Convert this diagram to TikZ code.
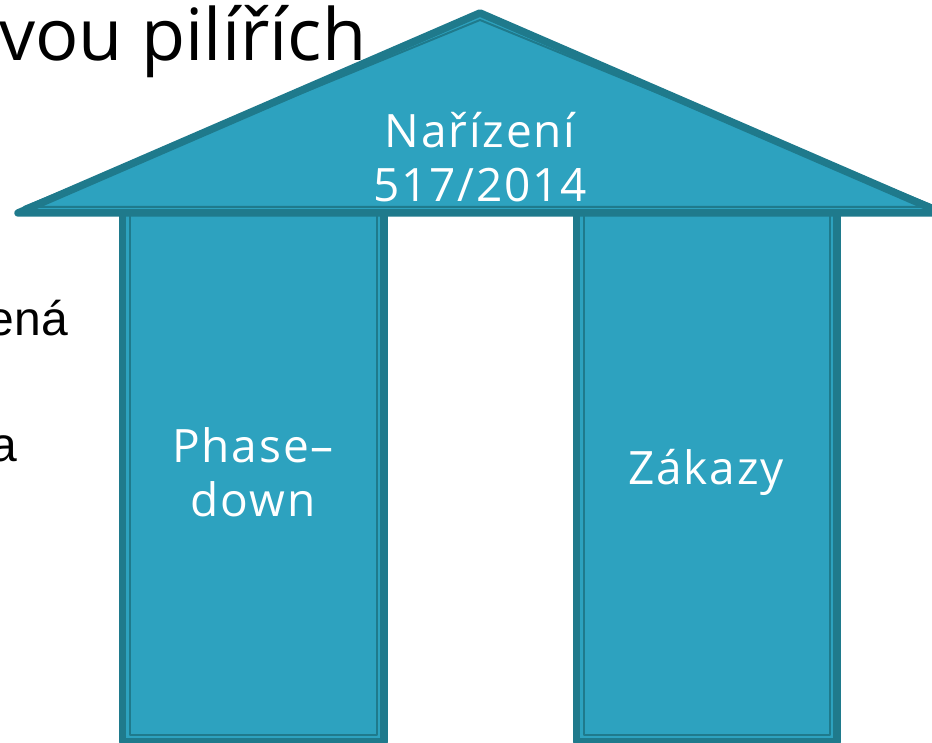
\documentclass[tikz,border=0pt]{standalone}
\usepackage{fontspec}
\setmainfont{Liberation Sans}
\newfontfamily\titlefont{Open Sans}
\newfontfamily\boxfont[LetterSpace=4]{Open Sans}
\definecolor{pillarfill}{HTML}{2DA2BF}
\definecolor{pillardark}{HTML}{1F7A8C}
\tikzset{
  outerband/.style={draw=pillardark, fill=pillarfill, line width=7.5pt, line join=round},
  innerline/.style={draw=pillardark, line width=2pt, line join=round},
  boxtext/.style={text=white, font=\boxfont\fontsize{46}{54}\selectfont, align=center, inner sep=0pt},
  bgtext/.style={text=black, inner sep=0pt}
}
\begin{document}
\begin{tikzpicture}[x=1pt,y=-1pt]
\useasboundingbox (0,0) rectangle (932,743);
\clip (0,0) rectangle (932,743);
% background slide text
\node[bgtext, anchor=base west, font=\titlefont\fontsize{72}{78}\selectfont] (title) at (-1,61) {vou pilířích};
\node[bgtext, anchor=base east, font=\fontsize{48}{54}\selectfont] (t1) at (68,336) {ená};
\node[bgtext, anchor=base east, font=\fontsize{48}{54}\selectfont] (t2) at (17,461) {a};
% pillars
\draw[outerband] (122.5,214) -- (122.5,742) -- (384,742) -- (384,214);
\draw[innerline] (130,214) -- (130,735) -- (377,735) -- (377,214);
\draw[outerband] (576.5,214) -- (576.5,742) -- (837,742) -- (837,214);
\draw[innerline] (584,214) -- (584,735) -- (830,735) -- (830,214);
% roof
\draw[outerband] (18,213) -- (480,13) -- (942,213) -- cycle;
\draw[innerline] (24,207) -- (480,20) -- (936,207) -- cycle;
% labels
\node[boxtext] (roof) at (480,157) {Nařízení\\517/2014};
\node[boxtext] (left) at (253,472) {Phase–\\down};
\node[boxtext] (right) at (706,472) {Zákazy};
\end{tikzpicture}
\end{document}
